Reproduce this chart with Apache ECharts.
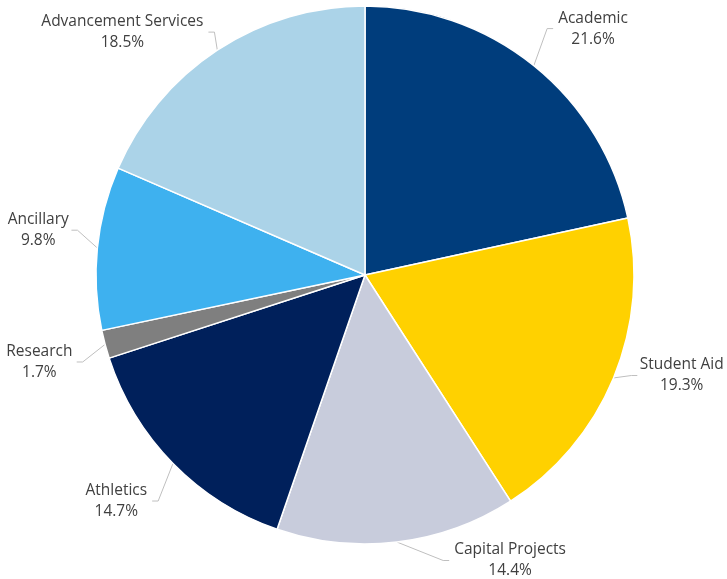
<!DOCTYPE html>
<html>
<head>
<meta charset="utf-8">
<script src="https://cdn.jsdelivr.net/npm/echarts@6/dist/echarts.min.js"></script>
<style>html,body{margin:0;padding:0;background:#fff}#c{width:727px;height:579px}</style>
</head>
<body>
<div id="c"></div>
<script>
const categories = ['Academic','Student Aid','Capital Projects','Athletics','Research','Ancillary','Advancement Services'];
const values = [21.6, 19.3, 14.4, 14.7, 1.7, 9.8, 18.5];
const colors = ['#003D7C','#FFD100','#C8CCDC','#00205B','#7F7F7F','#3EB1EF','#ABD3E8'];
// label nudges (style only)
const labelShift = [[0,-23],[4,-9],[42,1],[0,25],[-3,13],[0,-16],[9,-3]];

const chart = echarts.init(document.getElementById('c'));
chart.setOption({
  animation: false,
  series: [{
    type: 'pie',
    center: [365, 275],
    radius: [0, 269],
    startAngle: 90,
    clockwise: true,
    data: categories.map((n, i) => ({ name: n, value: values[i], itemStyle: { color: colors[i] } })),
    itemStyle: { borderColor: '#fff', borderWidth: 1.5 },
    label: {
      show: true,
      overflow: 'none',
      formatter: p => '{a|' + p.name + '}\n{a|' + p.value.toFixed(1) + '%}',
      rich: { a: { fontFamily: 'Open Sans', fontSize: 15.5, color: '#404040', lineHeight: 21, align: 'center' } }
    },
    labelLine: { show: true, length: 18, length2: 8, lineStyle: { color: '#BFBFBF', width: 1 } },
    labelLayout: p => {
      const [dx, dy] = labelShift[p.dataIndex];
      const pts = p.labelLinePoints;
      if (!pts) return { dx, dy };
      const p0 = pts[0], p2 = pts[pts.length - 1];
      const dir = p2[0] > p0[0] ? 1 : -1;
      const e = [p2[0] + dx, p2[1] + dy];
      const m = [e[0] - dir * 6, e[1]];
      return { dx, dy, labelLinePoints: [[p0[0], p0[1]], m, e] };
    }
  }]
});
</script>
</body>
</html>
